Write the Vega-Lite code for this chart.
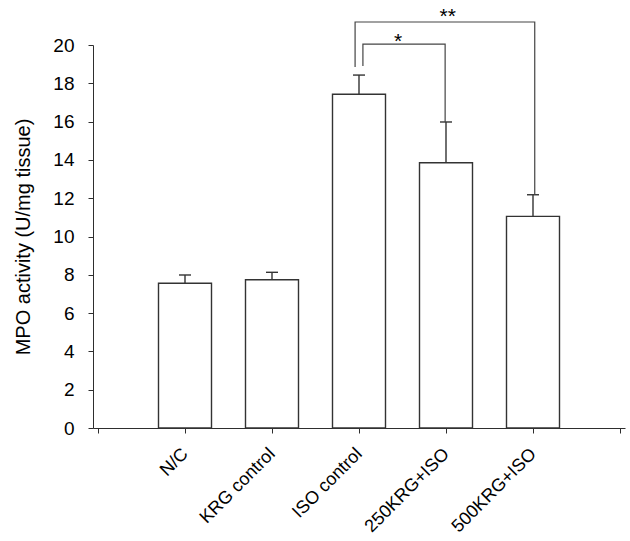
{
  "$schema": "https://vega.github.io/schema/vega-lite/v6.json",
  "width": 532,
  "height": 383,
  "autosize": {"type": "none"},
  "padding": {"left": 93, "top": 45, "right": 5, "bottom": 113},
  "config": {
    "view": {"stroke": null},
    "font": "Liberation Sans"
  },
  "datasets": {
    "bars": [
      {"group": "N/C", "i": 1, "mean": 7.56, "upper": 7.99},
      {"group": "KRG  control", "i": 2, "mean": 7.74, "upper": 8.13},
      {"group": "ISO control", "i": 3, "mean": 17.43, "upper": 18.43},
      {"group": "250KRG+ISO", "i": 4, "mean": 13.85, "upper": 15.98},
      {"group": "500KRG+ISO", "i": 5, "mean": 11.05, "upper": 12.18}
    ],
    "brackets": [
      {"b": "**", "order": 1, "x": 2.955, "y": 18.85},
      {"b": "**", "order": 2, "x": 2.955, "y": 21.2},
      {"b": "**", "order": 3, "x": 5.02, "y": 21.2},
      {"b": "**", "order": 4, "x": 5.02, "y": 12.18},
      {"b": "*", "order": 1, "x": 3.045, "y": 18.9},
      {"b": "*", "order": 2, "x": 3.045, "y": 20.05},
      {"b": "*", "order": 3, "x": 3.99, "y": 20.05},
      {"b": "*", "order": 4, "x": 3.99, "y": 15.98}
    ],
    "stars": [
      {"x": 4.02, "y": 21.45, "label": "**"},
      {"x": 3.45, "y": 20.15, "label": "*"}
    ]
  },
  "layer": [
    {
      "data": {"name": "bars"},
      "mark": {"type": "bar", "width": 53, "fill": "#ffffff", "stroke": "#333333", "strokeWidth": 1.4},
      "encoding": {
        "x": {
          "field": "i",
          "type": "quantitative",
          "scale": {"domain": [0, 6], "nice": false, "zero": false},
          "axis": {
            "title": null,
            "grid": false,
            "tickCount": 6,
            "labelExpr": "['', 'N/C', 'KRG  control', 'ISO control', '250KRG+ISO', '500KRG+ISO', ''][datum.value]",
            "labelAngle": -45,
            "labelAlign": "right",
            "labelBaseline": "middle",
            "labelPadding": 18,
            "labelFontSize": 18,
            "labelFont": "Liberation Sans",
            "labelColor": "#000000",
            "labelOverlap": false,
            "domainColor": "#2e2e2e",
            "tickColor": "#2e2e2e",
            "tickSize": 5
          }
        },
        "y": {
          "field": "mean",
          "type": "quantitative",
          "scale": {"domain": [0, 20], "nice": false},
          "axis": {
            "title": "MPO activity (U/mg tissue)",
            "titleFont": "Liberation Sans",
            "titleFontSize": 20,
            "titleFontWeight": "normal",
            "titleColor": "#000000",
            "titlePadding": 19,
            "grid": false,
            "tickCount": 10,
            "labelOverlap": false,
            "labelFontSize": 19,
            "labelFont": "Liberation Sans",
            "labelColor": "#000000",
            "labelPadding": 14,
            "domainColor": "#2e2e2e",
            "tickColor": "#2e2e2e",
            "tickSize": 5
          }
        }
      }
    },
    {
      "data": {"name": "bars"},
      "mark": {"type": "rule", "color": "#333333", "strokeWidth": 1.4},
      "encoding": {
        "x": {"field": "i", "type": "quantitative"},
        "y": {"field": "mean", "type": "quantitative"},
        "y2": {"field": "upper"}
      }
    },
    {
      "data": {"name": "bars"},
      "mark": {"type": "tick", "orient": "horizontal", "size": 12, "thickness": 1.4, "color": "#333333", "opacity": 1},
      "encoding": {
        "x": {"field": "i", "type": "quantitative"},
        "y": {"field": "upper", "type": "quantitative"}
      }
    },
    {
      "data": {"name": "brackets"},
      "mark": {"type": "line", "color": "#444444", "strokeWidth": 1.2},
      "encoding": {
        "x": {"field": "x", "type": "quantitative"},
        "y": {"field": "y", "type": "quantitative"},
        "detail": {"field": "b"},
        "order": {"field": "order", "type": "quantitative"}
      }
    },
    {
      "data": {"name": "stars"},
      "mark": {"type": "text", "fontSize": 21, "color": "#000000", "baseline": "middle", "align": "center"},
      "encoding": {
        "x": {"field": "x", "type": "quantitative"},
        "y": {"field": "y", "type": "quantitative"},
        "text": {"field": "label"}
      }
    }
  ]
}
